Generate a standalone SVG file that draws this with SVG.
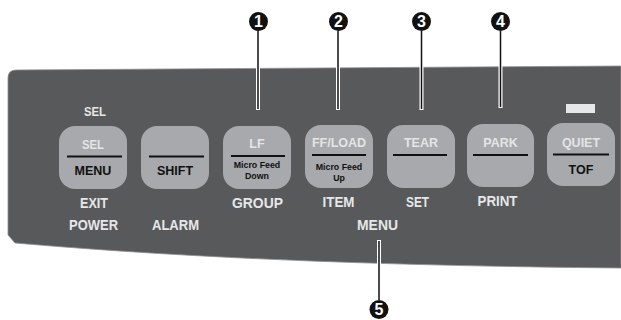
<svg xmlns="http://www.w3.org/2000/svg" width="621" height="320" viewBox="0 0 621 320">
<style>
.key{fill:#a7a9ac}
.sep{stroke:#111;stroke-width:2}
text{font-family:"Liberation Sans",Arial,sans-serif;font-weight:bold;text-anchor:middle}
.kt{font-size:12.5px;fill:#e4e5e6}
.kb{font-size:12.5px;fill:#111}
.ks{font-size:8.8px;fill:#111}
.lbl{font-size:15px;fill:#e6e7e8}
.halo{stroke:#fff;stroke-width:4;fill:none}
.lead{stroke:#111;stroke-width:1.5;fill:none}
.num{fill:#111}
.numt{font-size:16px;fill:#fff}
</style>
<rect width="621" height="320" fill="#fff"/>
<g id="panel">
<path d="M8,78 Q8,70 16,70 L621,66 L621,268 C400,266 200,259 15,243 L8,235 Z" fill="#58595b" stroke="#8d8e90" stroke-width="0.8"/>
<rect x="566" y="104" width="29" height="9" fill="#e6e7e8"/>
</g>
<g id="connectors">
<path class="halo" d="M258,34V110 M338,34V110 M421.5,34V110 M500.5,34V108 M379,240V294"/>
<path class="lead" d="M258,31V109 M338,31V109 M421.5,31V109 M500.5,31V107 M379,241V300"/>
</g>
<g id="key-sel">
<rect class="key" x="59" y="126" width="68" height="63" rx="16"/>
<line class="sep" x1="67" y1="156.5" x2="122" y2="156.5"/>
<text class="kt" x="93" y="148.5" textLength="22" lengthAdjust="spacingAndGlyphs">SEL</text>
<text class="kb" x="93" y="175">MENU</text>
</g>
<g id="key-shift">
<rect class="key" x="141" y="126" width="68" height="63" rx="16"/>
<line class="sep" x1="149" y1="156.5" x2="204" y2="156.5"/>
<text class="kb" x="175" y="175">SHIFT</text>
</g>
<g id="key-lf">
<rect class="key" x="223" y="126" width="68" height="63" rx="16"/>
<line class="sep" x1="231" y1="156" x2="285" y2="156"/>
<text class="kt" x="257" y="147.5">LF</text>
<text class="ks" x="257" y="167.5">Micro Feed</text>
<text class="ks" x="257" y="179">Down</text>
</g>
<g id="key-ffload">
<rect class="key" x="305" y="125" width="68" height="63" rx="16"/>
<line class="sep" x1="312" y1="155" x2="366" y2="155"/>
<text class="kt" x="339" y="146.5">FF/LOAD</text>
<text class="ks" x="339" y="170">Micro Feed</text>
<text class="ks" x="339" y="181">Up</text>
</g>
<g id="key-tear">
<rect class="key" x="387" y="125" width="68" height="63" rx="16"/>
<line class="sep" x1="393" y1="155" x2="447" y2="155"/>
<text class="kt" x="421" y="146.5">TEAR</text>
</g>
<g id="key-park">
<rect class="key" x="467" y="124" width="67" height="63" rx="16"/>
<line class="sep" x1="473" y1="155" x2="528" y2="155"/>
<text class="kt" x="500.5" y="146.5">PARK</text>
</g>
<g id="key-quiet">
<rect class="key" x="547" y="123" width="68" height="63" rx="16"/>
<line class="sep" x1="553" y1="154.5" x2="609" y2="154.5"/>
<text class="kt" x="581" y="146.5">QUIET</text>
<text class="kb" x="581" y="174">TOF</text>
</g>
<g id="labels">
<text class="lbl" x="95" y="116" style="font-size:13px" textLength="22" lengthAdjust="spacingAndGlyphs">SEL</text>
<text class="lbl" x="94" y="208" textLength="28" lengthAdjust="spacingAndGlyphs">EXIT</text>
<text class="lbl" x="93.5" y="230" textLength="49" lengthAdjust="spacingAndGlyphs">POWER</text>
<text class="lbl" x="175.5" y="230" textLength="47" lengthAdjust="spacingAndGlyphs">ALARM</text>
<text class="lbl" x="257.5" y="207.5" textLength="51" lengthAdjust="spacingAndGlyphs">GROUP</text>
<text class="lbl" x="338.5" y="207" textLength="32" lengthAdjust="spacingAndGlyphs">ITEM</text>
<text class="lbl" x="417.5" y="207" textLength="23" lengthAdjust="spacingAndGlyphs">SET</text>
<text class="lbl" x="497.5" y="206" textLength="40" lengthAdjust="spacingAndGlyphs">PRINT</text>
<text class="lbl" x="377.5" y="230" textLength="41" lengthAdjust="spacingAndGlyphs">MENU</text>
</g>
<g id="callout-1"><circle class="num" cx="258.5" cy="21.5" r="9.5"/><text class="numt" x="258.5" y="27.3">1</text></g>
<g id="callout-2"><circle class="num" cx="338.5" cy="21.5" r="9.5"/><text class="numt" x="338.5" y="27.3">2</text></g>
<g id="callout-3"><circle class="num" cx="421.5" cy="21.5" r="9.5"/><text class="numt" x="421.5" y="27.3">3</text></g>
<g id="callout-4"><circle class="num" cx="500.5" cy="21.5" r="9.5"/><text class="numt" x="500.5" y="27.3">4</text></g>
<g id="callout-5"><circle class="num" cx="379" cy="309.5" r="9.5"/><text class="numt" x="379" y="315.3">5</text></g>
</svg>
